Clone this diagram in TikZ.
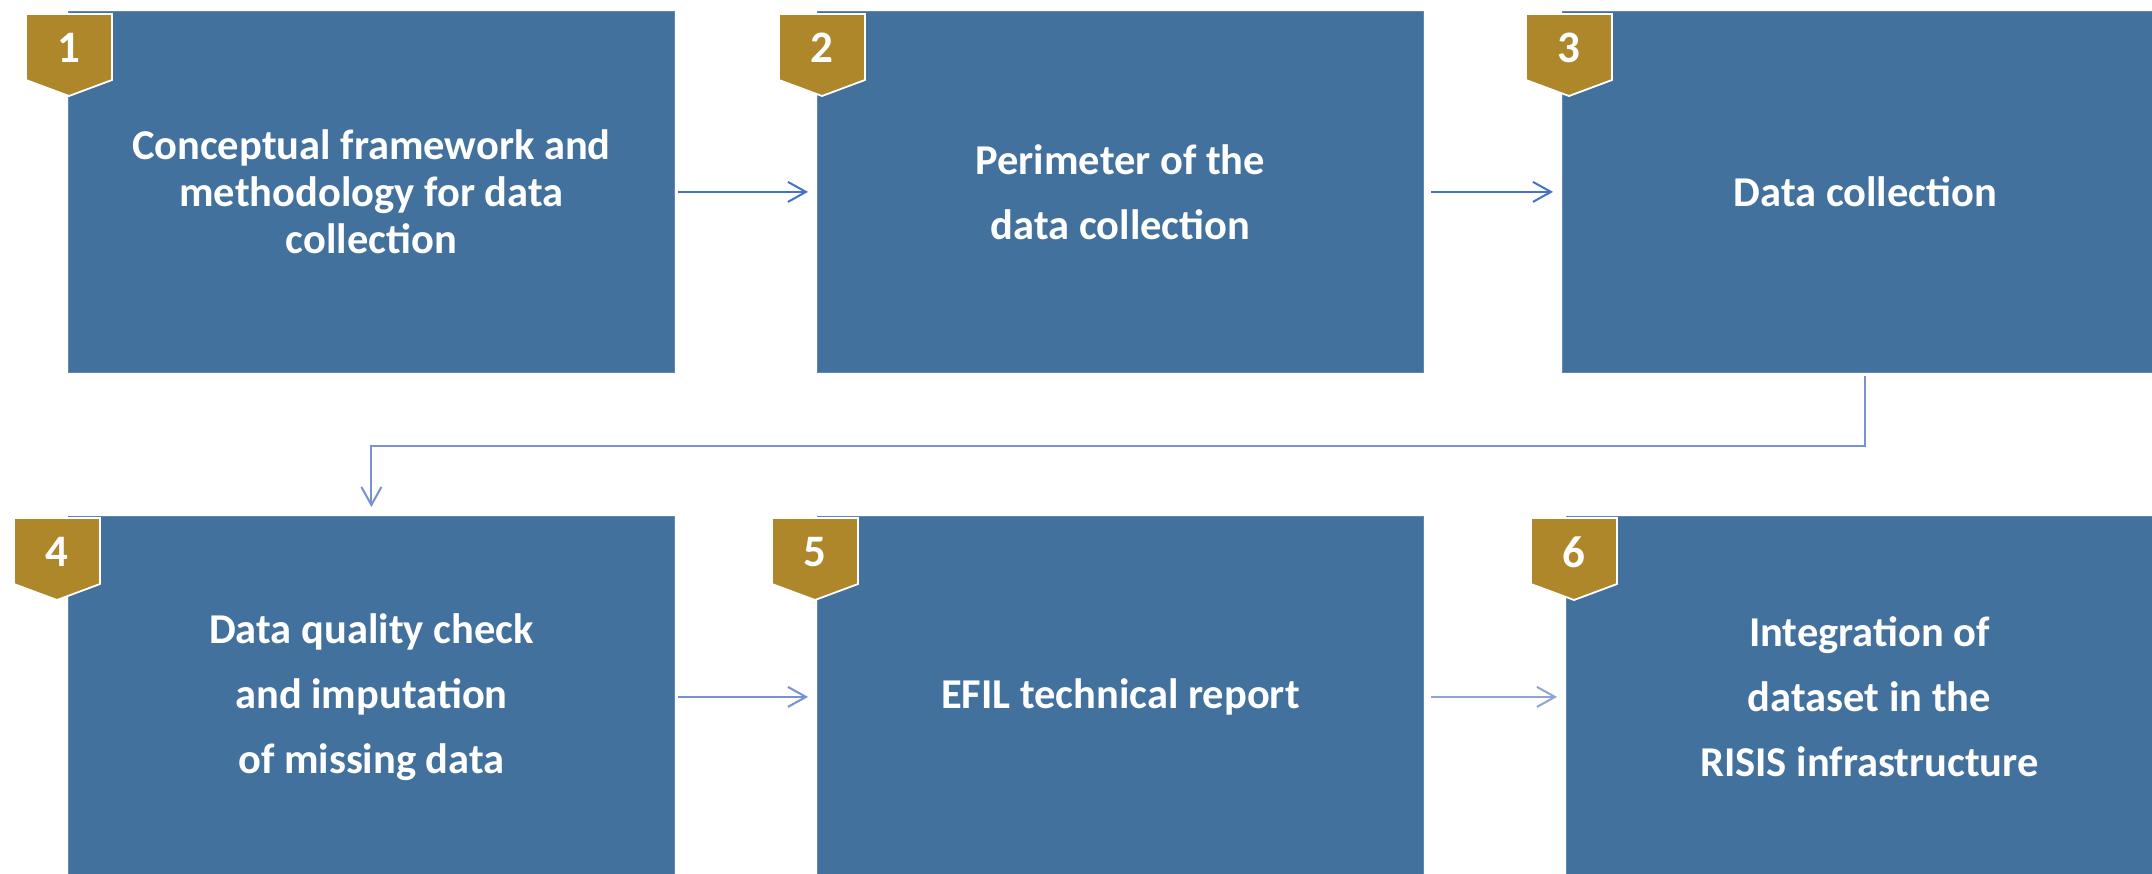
\documentclass[tikz,border=0pt]{standalone}
\usepackage{fontspec}
\setmainfont{Carlito}
\usetikzlibrary{arrows.meta}
\definecolor{boxblue}{RGB}{67,113,157}
\definecolor{boxedge}{RGB}{96,134,180}
\definecolor{gold}{RGB}{175,135,43}
\definecolor{arrA}{RGB}{68,114,196}
\definecolor{arrB}{RGB}{118,146,212}
\definecolor{arrC}{RGB}{143,163,218}
\begin{document}
\begin{tikzpicture}[x=1pt,y=-1pt,
  stepbox/.style={rectangle, fill=boxblue, draw=boxedge, line width=0.8pt,
    minimum width=606pt, minimum height=361pt, inner sep=0pt, text=white,
    font=\bfseries\fontsize{42.5}{65}\selectfont, align=center, anchor=north west},
  num/.style={text=white, font=\bfseries\fontsize{45}{45}\selectfont, inner sep=0pt},
  badgeshape/.style={fill=gold, draw=white, line width=1.8pt},
  flow/.style={line width=2pt, -{Straight Barb[length=18pt,width=20pt]}}]
\useasboundingbox (0,0) rectangle (2152,873);
\fill[white] (0,0) rectangle (2152,873);

% boxes
\node[stepbox, font=\bfseries\fontsize{42.5}{47}\selectfont] (b1) at (68,11) {Conceptual framework and\\methodology for data\\collection};
\node[stepbox] (b2) at (817,11) {Perimeter of the\\data collection};
\node[stepbox] (b3) at (1562,11) {Data collection};
\node[stepbox] (b4) at (68,516) {Data quality check\\and imputation\\of missing data};
\node[stepbox] (b5) at (817,516) {EFIL technical report};
\node[stepbox] (b6) at (1566,516) {Integration of\\dataset in the\\RISIS infrastructure};

% badges
\foreach \cx/\ty/\d/\nm in {69/14/1/n1, 822/14/2/n2, 1569/14/3/n3, 57/518/4/n4, 815/518/5/n5, 1574/518/6/n6} {
  \path[badgeshape] (\cx-43,\ty) -- (\cx+43,\ty) -- (\cx+43,\ty+66) -- (\cx,\ty+82) -- (\cx-43,\ty+66) -- cycle;
  \node[num] (\nm) at (\cx,\ty+34) {\d};
}

% connectors
\draw[flow, arrA, shorten <=3pt, shorten >=9pt] (b1.east) -- (b2.west);
\draw[flow, arrA, shorten <=7pt, shorten >=9pt] (b2.east) -- (b3.west);
\draw[flow, arrB, shorten <=3pt, shorten >=9pt] (b3.south) -- ++(0,73) -| (b4.north);
\draw[flow, arrB, shorten <=3pt, shorten >=9pt] (b4.east) -- (b5.west);
\draw[flow, arrC, shorten <=7pt, shorten >=9pt] (b5.east) -- (b6.west);
\end{tikzpicture}
\end{document}
